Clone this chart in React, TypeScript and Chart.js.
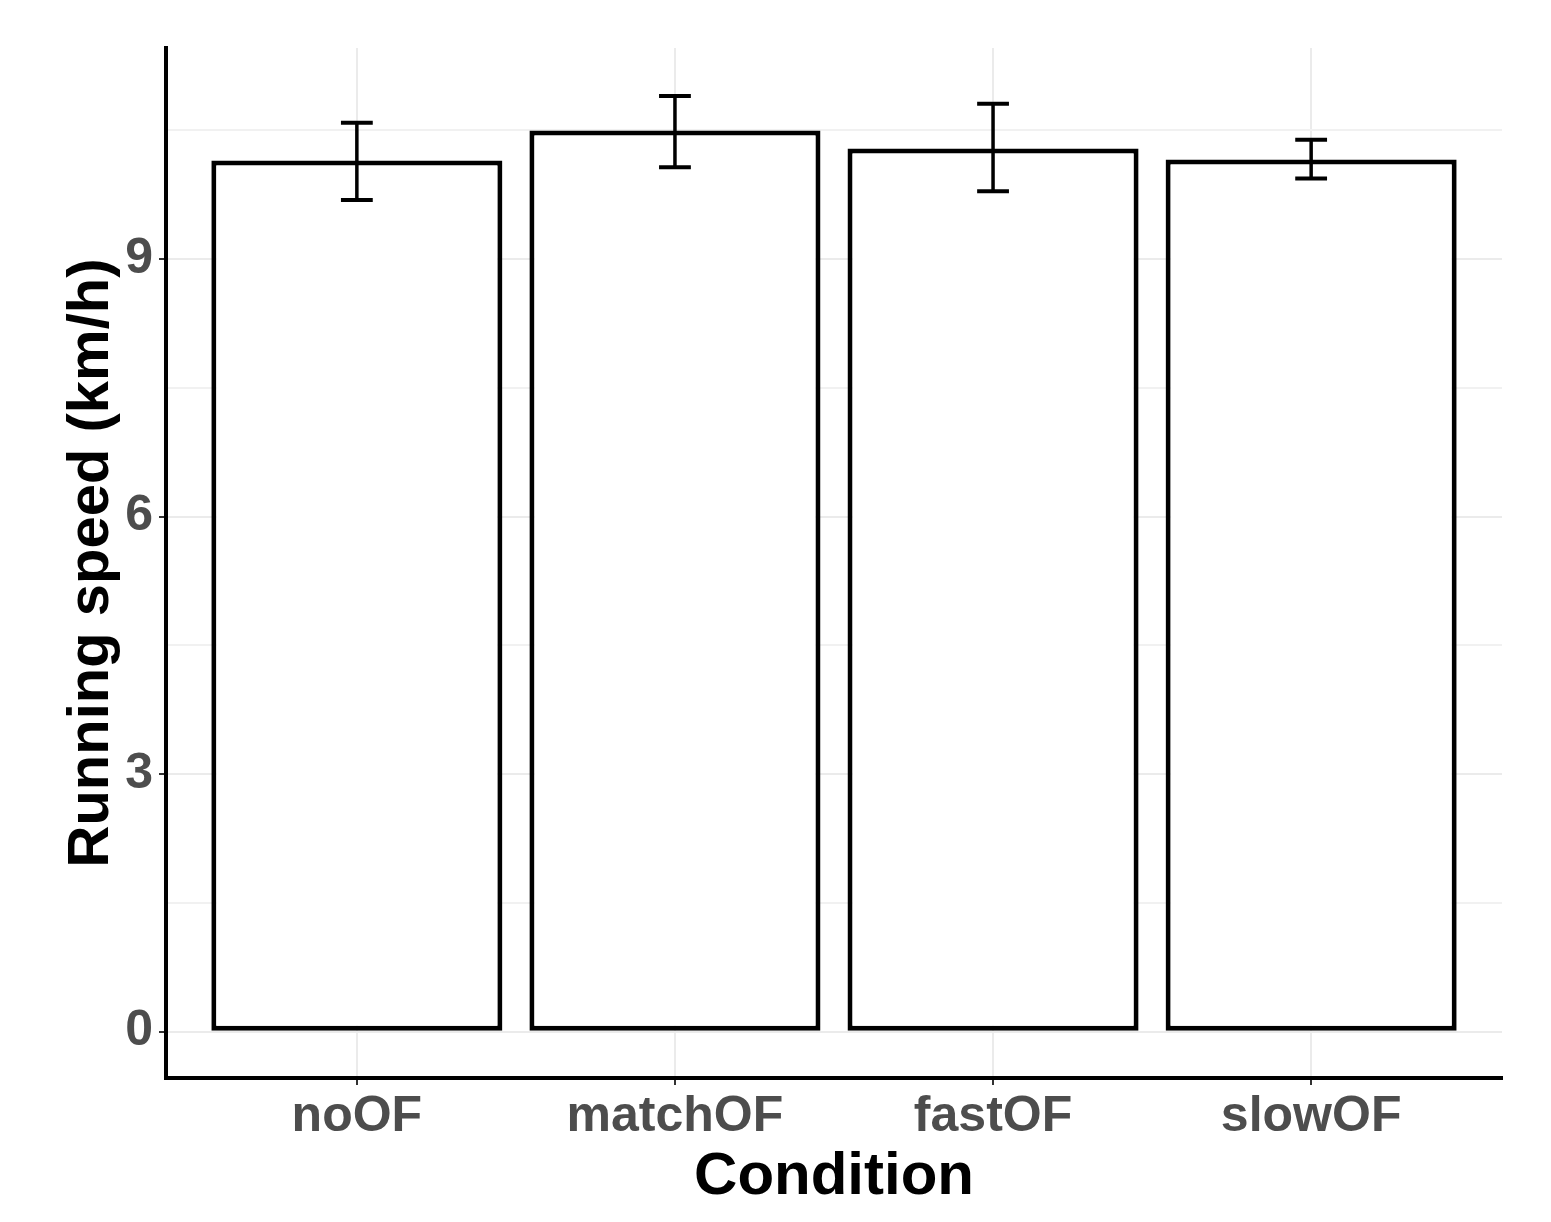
import React, { useEffect, useRef } from "react";
import { Chart, registerables } from "chart.js";

Chart.register(...registerables);

const categories = ["noOF", "matchOF", "fastOF", "slowOF"];
const means = [10.15, 10.5, 10.29, 10.16];
const errLow = [9.69, 10.07, 9.79, 9.94];
const errHigh = [10.59, 10.9, 10.81, 10.39];
const yTicks = [0, 1.5, 3, 4.5, 6, 7.5, 9, 10.5];
const yLabelTicks = [0, 3, 6, 9];

const FONT = "'Liberation Sans', Arial, sans-serif";

const errorBarPlugin = {
  id: "errorBars",
  afterDatasetsDraw(chart: any) {
    const { ctx, scales } = chart;
    const xs = scales.x;
    const ys = scales.y;
    ctx.save();
    ctx.strokeStyle = "#000";
    for (let i = 0; i < categories.length; i++) {
      const cx = xs.getPixelForValue(i + 1);
      const xl = xs.getPixelForValue(i + 1 - 0.05);
      const xr = xs.getPixelForValue(i + 1 + 0.05);
      const yt = ys.getPixelForValue(errHigh[i]);
      const yb = ys.getPixelForValue(errLow[i]);
      ctx.lineWidth = 3.5;
      ctx.beginPath();
      ctx.moveTo(cx, yt);
      ctx.lineTo(cx, yb);
      ctx.stroke();
      ctx.lineWidth = 4;
      ctx.beginPath();
      ctx.moveTo(xl, yt);
      ctx.lineTo(xr, yt);
      ctx.moveTo(xl, yb);
      ctx.lineTo(xr, yb);
      ctx.stroke();
    }
    ctx.restore();
  },
};

export default function App() {
  const ref = useRef<HTMLCanvasElement | null>(null);

  useEffect(() => {
    if (!ref.current) return;
    const chart = new Chart(ref.current, {
      type: "bar",
      data: {
        datasets: [
          {
            data: means.map((v, i) => ({ x: i + 1, y: v })),
            backgroundColor: "#ffffff",
            borderColor: "#000000",
            borderWidth: 5,
            borderSkipped: false,
            barPercentage: 0.915,
            categoryPercentage: 1,
          },
        ],
      },
      options: {
        animation: false,
        responsive: true,
        maintainAspectRatio: false,
        layout: { padding: { top: 48, right: 49, left: 0, bottom: 0 } },
        plugins: {
          legend: { display: false },
          tooltip: { enabled: false },
        },
        scales: {
          x: {
            type: "linear",
            min: 0.4,
            max: 4.6,
            offset: false,
            afterBuildTicks: (scale: any) => {
              scale.ticks = categories.map((_, i) => ({ value: i + 1 }));
            },
            afterFit: (scale: any) => {
              scale.height = 144;
            },
            ticks: {
              autoSkip: false,
              maxRotation: 0,
              color: "#4d4d4d",
              padding: 2,
              font: { family: FONT, size: 50, weight: "bold" },
              callback: (v: any) => categories[Math.round(Number(v)) - 1] ?? "",
            },
            grid: {
              offset: false,
              color: "#ebebeb",
              lineWidth: 2,
              tickColor: "#333333",
              tickLength: 7,
              tickWidth: 2,
            },
            border: { display: true, color: "#000000", width: 4 },
            title: {
              display: true,
              text: "Condition",
              color: "#000000",
              font: { family: FONT, size: 60, weight: "bold", lineHeight: 1 },
              padding: { top: 0, bottom: 15 },
            },
          },
          y: {
            type: "linear",
            min: -0.54,
            max: 11.46,
            afterBuildTicks: (scale: any) => {
              scale.ticks = yTicks.map((v) => ({ value: v }));
            },
            afterFit: (scale: any) => {
              scale.width = 166;
            },
            ticks: {
              autoSkip: false,
              color: "#4d4d4d",
              padding: 6,
              font: { family: FONT, size: 50, weight: "bold" },
              callback: (v: any) =>
                yLabelTicks.includes(Number(v)) ? String(v) : "",
            },
            grid: {
              color: (c: any) =>
                c.tick && yLabelTicks.includes(c.tick.value) ? "#ebebeb" : "#f1f1f1",
              lineWidth: 2,
              tickColor: (c: any) =>
                c.tick && yLabelTicks.includes(c.tick.value) ? "#333333" : "rgba(0,0,0,0)",
              tickLength: 7,
              tickWidth: 2,
            },
            border: { display: true, color: "#000000", width: 4 },
            title: {
              display: true,
              text: "Running speed (km/h)",
              color: "#000000",
              font: { family: FONT, size: 58, weight: "bold", lineHeight: 1 },
              padding: { top: 63, bottom: 0 },
            },
          },
        },
      },
      plugins: [errorBarPlugin],
    });
    return () => chart.destroy();
  }, []);

  return (
    <div
      style={{
        position: "absolute",
        left: 0,
        top: 0,
        width: "1551px",
        height: "1222px",
        background: "#ffffff",
      }}
    >
      <canvas ref={ref} />
    </div>
  );
}
